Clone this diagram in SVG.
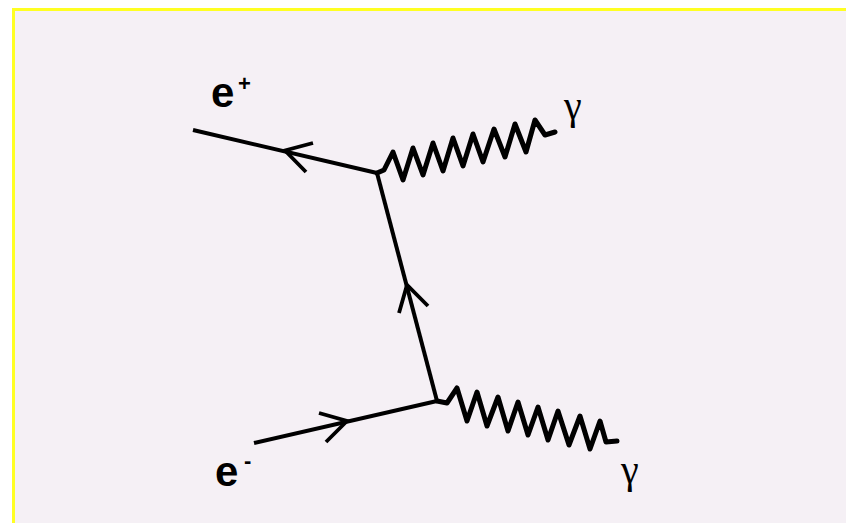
<svg xmlns="http://www.w3.org/2000/svg" width="846" height="523" viewBox="0 0 846 523">
<style>
.ln{fill:none;stroke:#000;stroke-width:4;stroke-linecap:butt;stroke-linejoin:round}
.ph{fill:none;stroke:#000;stroke-width:5;stroke-linejoin:round;stroke-linecap:round}
.ar{fill:none;stroke:#000;stroke-width:3.8;stroke-linejoin:miter}
.lab{font-family:"Liberation Sans",Arial,sans-serif;font-weight:bold;fill:#000}
.gam{font-family:"Liberation Serif","Times New Roman",serif;fill:#000}
</style>
<rect x="0" y="0" width="846" height="523" fill="#ffffff"/>
<rect x="12" y="8" width="834" height="515" fill="#ffff22"/>
<rect x="15" y="11" width="831" height="512" fill="#f5f0f5"/>
<g id="connectors">
<path id="eplus-line" class="ln" d="M193,130 L377,173"/>
<path id="propagator" class="ln" d="M377,173 L437,401"/>
<path id="eminus-line" class="ln" d="M254,443 L437,401"/>
<path id="arrow-eplus" class="ar" d="M313,143 L285,150.5 L306,172"/>
<path id="arrow-prop" class="ar" d="M399,313 L407,285 L428,306"/>
<path id="arrow-eminus" class="ar" d="M319,413 L347,421 L326,442"/>
<path id="photon-top" class="ph" d="M377,173 L384,170 L393,152 L403,180 L413,148 L423,175 L433,143 L443,171 L453,138 L463,166 L473,134 L483,162 L494,129 L505,157 L515,124 L526,152 L535,120 L545,135 L555,132"/>
<path id="photon-bottom" class="ph" d="M437,401 L447,403 L457,388 L467,421 L477,392 L487,426 L498,397 L508,431 L518,402 L528,435 L538,407 L548,440 L558,411 L569,445 L580,416 L590,449 L600,421 L606,442 L617,441"/>
</g>
<g id="label-eplus"><text class="lab" x="211" y="107" font-size="42">e</text><text class="lab" x="238" y="91" font-size="22">+</text></g>
<g id="label-eminus"><text class="lab" x="215" y="486" font-size="42">e</text><text class="lab" x="244" y="468" font-size="22">-</text></g>
<g id="label-gamma-top"><text class="gam" x="564" y="119" font-size="40">γ</text></g>
<g id="label-gamma-bottom"><text class="gam" x="621" y="483" font-size="40">γ</text></g>
</svg>
